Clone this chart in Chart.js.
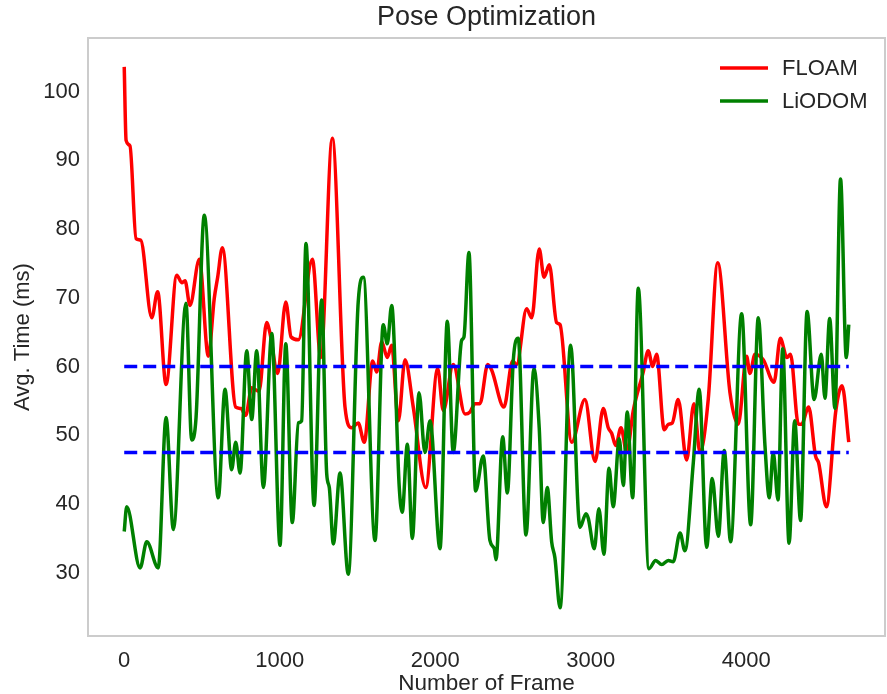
<!DOCTYPE html>
<html>
<head>
<meta charset="utf-8">
<title>Pose Optimization</title>
<script src="https://cdn.jsdelivr.net/npm/chart.js@4.4.1/dist/chart.umd.min.js"></script>
<style>
    html, body { margin: 0; padding: 0; background: #ffffff; }
    #wrap { width: 887px; height: 694px; }
</style>
</head>
<body>
<div id="wrap"><canvas id="poseChart" width="887" height="694"></canvas></div>
<script>
// Frame index and average pose optimization time (ms) per method
const floamFrames = [0, 12, 37, 76, 106, 177, 215, 269, 338, 370, 391, 423, 483, 541, 579, 601, 631, 717, 751, 781,
    820, 867, 916, 938, 987, 1039, 1073, 1120, 1210, 1264, 1338, 1420, 1463, 1505, 1544, 1598, 1624, 1656, 1692, 1720,
    1763, 1806, 1859, 1939, 2016, 2052, 2116, 2192, 2224, 2256, 2288, 2338, 2363, 2442, 2498, 2524, 2588, 2621, 2669, 2700,
    2734, 2781, 2803, 2878, 2963, 3028, 3081, 3113, 3135, 3161, 3195, 3232, 3274, 3338, 3370, 3399, 3424, 3473, 3499, 3525,
    3563, 3617, 3664, 3703, 3756, 3817, 3896, 3949, 4003, 4024, 4057, 4110, 4179, 4220, 4262, 4285, 4336, 4356, 4402, 4446,
    4466, 4516, 4577, 4617, 4660];
const floamTimes = [103.6, 92.9, 92.1, 78.6, 78.4, 67.1, 70.9, 57.4, 73.3, 72.2, 72.5, 68.9, 75.6, 61.5, 69.9, 73, 77.3, 54.1, 53.9, 52.9,
    56.9, 56.4, 66.4, 64.8, 59, 69.4, 64.3, 63.9, 75.6, 61.3, 93.2, 54.1, 51.1, 51.8, 49, 60.8, 59.2, 63.6, 61.3, 63.1,
    52.1, 61, 54.1, 42.4, 59.7, 53.6, 60.3, 53.1, 53.4, 54.6, 54.6, 60.3, 59.5, 54.1, 60.8, 60.3, 68.4, 67.1, 77.1, 73,
    74.8, 66.4, 66.1, 49, 55.2, 46.2, 53.9, 51.1, 50.3, 48.5, 51.1, 47.5, 53.6, 59.2, 62.3, 60, 61.8, 50.8, 51.6, 51.8,
    55.2, 46.4, 54.6, 47.5, 55.2, 75.1, 56.2, 51.6, 61.5, 59, 61.8, 61, 57.7, 64.1, 61.3, 61.8, 51.6, 51.6, 54.1, 47,
    46, 39.6, 53.6, 57.2, 49];

const liodomFrames = [0, 16, 102, 145, 219, 269, 316, 397, 434, 462, 515, 605, 648, 691, 717, 745, 788, 820, 852, 895,
    949, 1002, 1039, 1081, 1120, 1141, 1169, 1221, 1270, 1302, 1319, 1345, 1388, 1441, 1505, 1538, 1613, 1666, 1692, 1720,
    1769, 1788, 1821, 1853, 1896, 1934, 1967, 2031, 2078, 2116, 2170, 2185, 2217, 2260, 2309, 2352, 2380, 2391, 2434, 2464,
    2502, 2534, 2584, 2635, 2669, 2695, 2721, 2749, 2770, 2803, 2871, 2931, 2970, 2985, 3023, 3053, 3085, 3118, 3145, 3184,
    3210, 3235, 3270, 3306, 3375, 3418, 3457, 3499, 3531, 3575, 3606, 3660, 3698, 3746, 3782, 3821, 3859, 3900, 3971, 4029,
    4078, 4121, 4149, 4174, 4205, 4235, 4276, 4312, 4350, 4392, 4437, 4483, 4507, 4537, 4571, 4607, 4644, 4660];
const liodomTimes = [36, 39.6, 30.7, 34.5, 30.7, 52.6, 36.3, 69.2, 49.3, 52.6, 82, 40.9, 56.7, 45, 49, 44.5, 62.3, 52.3, 62.3, 42.4,
    64.8, 34, 63.3, 37.3, 51.8, 52.1, 77.9, 39.8, 69.7, 44.5, 42.4, 34.2, 44.5, 29.8, 69.4, 73, 34.7, 66.1, 63.3, 68.9,
    42.4, 38.8, 48.7, 35, 56.2, 47.5, 52.1, 33.5, 66.6, 47.5, 63.8, 64.3, 76.6, 41.9, 47, 34.7, 33.5, 31.9, 49.8, 41.6,
    60.8, 64.1, 35.5, 59.7, 51.1, 37.3, 42.4, 34.5, 32.2, 24.9, 63.1, 36.6, 38.6, 37.9, 33.5, 39.3, 32.7, 45.2, 39.6, 49.5,
    42.7, 53.4, 40.9, 71.4, 30.6, 31.8, 31.2, 31.8, 31.6, 35.8, 33.2, 46, 56.7, 33.7, 43.7, 35.3, 47.8, 34.5, 67.7, 37,
    67.1, 48.5, 40.9, 47.5, 40.6, 62.6, 34.3, 52.1, 37.6, 68, 55.2, 61.8, 55.4, 67, 53.9, 87.3, 61.3, 66.1];

// Reference levels drawn as dashed lines across the whole run
const refFrames = [0, 4660];
const refLevels = [60, 47.5];

const xTicks = [0, 1000, 2000, 3000, 4000];
const yTicks = [30, 40, 50, 60, 70, 80, 90, 100];

const FONT = '"Liberation Sans", Arial, sans-serif';
const TEXT_COLOR = '#262626';

function toPoints(xs, ys) {
    return xs.map((x, i) => ({ x: x, y: ys[i] }));
}

function curve(label, xs, ys, color, order) {
    return {
        label: label,
        data: toPoints(xs, ys),
        borderColor: color,
        backgroundColor: color,
        borderWidth: 3.5,
        pointRadius: 0,
        cubicInterpolationMode: 'monotone',
        order: order
    };
}

const datasets = [
    curve('FLOAM', floamFrames, floamTimes, '#ff0000', 2),
    curve('LiODOM', liodomFrames, liodomTimes, '#008000', 1)
];
refLevels.forEach(level => {
    datasets.push({
        label: 'ref ' + level,
        data: refFrames.map(f => ({ x: f, y: level })),
        borderColor: '#0000ff',
        borderWidth: 3.5,
        borderDash: [13, 6],
        pointRadius: 0,
        order: 0
    });
});

// Plot frame, title over the axes and the legend box in the upper right
const framePlugin = {
    id: 'frameAndLegend',
    afterDraw(chart) {
        const { ctx, chartArea } = chart;
        ctx.save();
        ctx.strokeStyle = '#cccccc';
        ctx.lineWidth = 2;
        ctx.strokeRect(chartArea.left, chartArea.top, chartArea.right - chartArea.left, chartArea.bottom - chartArea.top);

        ctx.fillStyle = TEXT_COLOR;
        ctx.font = '27px ' + FONT;
        ctx.textAlign = 'center';
        ctx.textBaseline = 'alphabetic';
        ctx.fillText('Pose Optimization', (chartArea.left + chartArea.right) / 2, 25);

        const items = [['FLOAM', '#ff0000', 68], ['LiODOM', '#008000', 101]];
        ctx.font = '22px ' + FONT;
        ctx.textBaseline = 'middle';
        ctx.textAlign = 'left';
        items.forEach(([name, color, y]) => {
            ctx.strokeStyle = color;
            ctx.lineWidth = 3.5;
            ctx.beginPath();
            ctx.moveTo(720, y);
            ctx.lineTo(768, y);
            ctx.stroke();
            ctx.fillStyle = TEXT_COLOR;
            ctx.fillText(name, 782, y + 1);
        });
        ctx.restore();
    }
};

new Chart(document.getElementById('poseChart').getContext('2d'), {
    type: 'line',
    data: { datasets: datasets },
    options: {
        responsive: false,
        animation: false,
        layout: { padding: { left: 0, right: 2, top: 38, bottom: 0 } },
        plugins: {
            legend: { display: false },
            tooltip: { enabled: false },
            title: { display: false }
        },
        scales: {
            x: {
                type: 'linear',
                min: -233,
                max: 4893,
                grid: { display: false, drawTicks: false },
                border: { display: false },
                afterBuildTicks: scale => { scale.ticks = xTicks.map(v => ({ value: v })); },
                afterFit: scale => { scale.height = 58; },
                ticks: {
                    color: TEXT_COLOR,
                    padding: 12,
                    maxRotation: 0,
                    font: { family: FONT, size: 22 },
                    callback: v => String(v)
                },
                title: {
                    display: true,
                    text: 'Number of Frame',
                    color: TEXT_COLOR,
                    font: { family: FONT, size: 22.5 },
                    padding: { top: 0, bottom: -3 }
                }
            },
            y: {
                min: 20.8,
                max: 107.8,
                grid: { display: false, drawTicks: false },
                border: { display: false },
                afterBuildTicks: scale => { scale.ticks = yTicks.map(v => ({ value: v })); },
                afterFit: scale => { scale.width = 88; },
                ticks: {
                    color: TEXT_COLOR,
                    padding: 8,
                    font: { family: FONT, size: 22 },
                    callback: v => String(v)
                },
                title: {
                    display: true,
                    text: 'Avg. Time (ms)',
                    color: TEXT_COLOR,
                    font: { family: FONT, size: 22 },
                    padding: { top: 10, bottom: 0 }
                }
            }
        }
    },
    plugins: [framePlugin]
});
</script>
</body>
</html>
